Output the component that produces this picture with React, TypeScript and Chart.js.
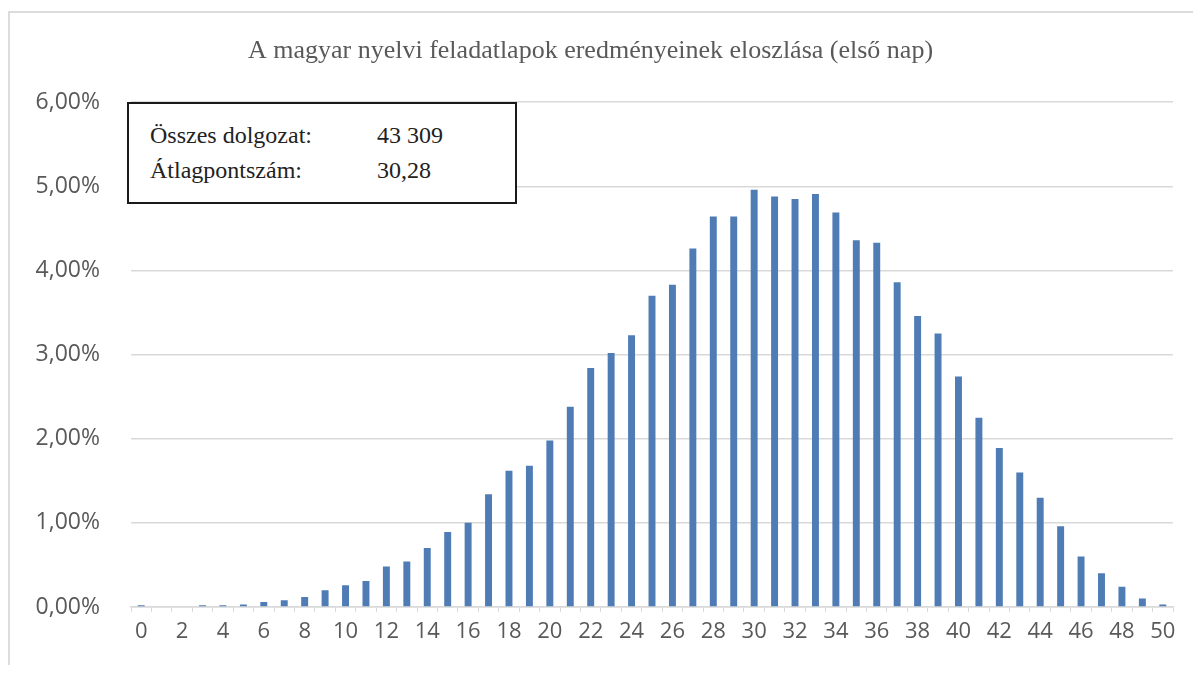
import React, { useEffect, useRef } from "react";
import { Chart, registerables } from "chart.js";

Chart.register(...registerables);

const categories: string[] = Array.from({ length: 51 }, (_, i) => String(i));
const shares: number[] = [
  0.02, 0.0, 0.0, 0.02, 0.02, 0.03, 0.06, 0.08, 0.12, 0.2,
  0.26, 0.31, 0.48, 0.54, 0.7, 0.89, 1.0, 1.34, 1.62, 1.68,
  1.98, 2.38, 2.84, 3.02, 3.23, 3.7, 3.83, 4.26, 4.64, 4.64,
  4.96, 4.88, 4.85, 4.91, 4.69, 4.36, 4.33, 3.86, 3.46, 3.25,
  2.74, 2.25, 1.89, 1.6, 1.3, 0.96, 0.6, 0.4, 0.24, 0.1,
  0.03,
];
const yTicks: number[] = [0, 1, 2, 3, 4, 5, 6];
const titleText = "A magyar nyelvi feladatlapok eredményeinek eloszlása (első nap)";
const infoLabels: string[] = ["Összes dolgozat:", "Átlagpontszám:"];
const infoValues: string[] = ["43 309", "30,28"];

export default function App() {
  const ref = useRef<HTMLCanvasElement | null>(null);

  useEffect(() => {
    if (!ref.current) return;
    const chart = new Chart(ref.current, {
      type: "bar",
      data: {
        labels: categories,
        datasets: [
          {
            data: shares,
            backgroundColor: "#4f7cb5",
            barPercentage: 0.34,
            categoryPercentage: 1,
          },
        ],
      },
      options: {
        animation: false,
        responsive: false,
        layout: { padding: { left: 0, right: 20, top: 0, bottom: 0 } },
        plugins: {
          legend: { display: false },
          tooltip: { enabled: false },
          title: {
            display: true,
            text: titleText,
            color: "#595959",
            font: { family: "'Liberation Serif', serif", size: 26, weight: "normal" },
            padding: { top: 28, bottom: 35 },
          },
        },
        scales: {
          x: {
            grid: {
              display: true,
              drawOnChartArea: false,
              offset: true,
              color: "#d9d9d9",
              tickColor: "#d9d9d9",
              tickLength: 5,
            },
            border: { display: true, color: "#d9d9d9", width: 1.5 },
            ticks: {
              autoSkip: false,
              maxRotation: 0,
              color: "#595959",
              padding: 7,
              font: { family: "'Open Sans', sans-serif", size: 22 },
              callback: (_v: any, i: number) => (i % 2 === 0 ? categories[i] : ""),
            },
            afterFit: (s: any) => {
              s.height = 58;
            },
          },
          y: {
            min: 0,
            max: 6,
            afterBuildTicks: (s: any) => {
              s.ticks = yTicks.map((v) => ({ value: v }));
            },
            grid: { color: "#d9d9d9", lineWidth: 1.5, drawTicks: false },
            border: { display: false },
            ticks: {
              color: "#595959",
              padding: 31,
              font: { family: "'Open Sans', sans-serif", size: 23 },
              callback: (v: any) => Number(v).toFixed(2).replace(".", ",") + "%",
            },
            afterFit: (s: any) => {
              s.width = 123;
            },
          },
        },
      },
    });
    return () => chart.destroy();
  }, []);

  const serif = "'Liberation Serif', 'Times New Roman', serif";

  return (
    <div style={{ position: "relative", width: 1185, height: 657, background: "#fff" }}>
      <div
        style={{
          position: "absolute",
          left: 0,
          top: 3,
          right: -16,
          bottom: -16,
          borderTop: "2px solid #dcdcdc",
          borderLeft: "2px solid #dcdcdc",
        }}
      />
      <canvas ref={ref} width={1185} height={657} style={{ position: "absolute", left: 0, top: 0 }} />
      <div
        style={{
          position: "absolute",
          left: 119,
          top: 94,
          width: 386,
          height: 98,
          border: "2px solid #1a1a1a",
          background: "#fff",
          fontFamily: serif,
          fontSize: 24,
          color: "#222",
        }}
      >
        {infoLabels.map((l, i) => (
          <React.Fragment key={l}>
            <span style={{ position: "absolute", left: 21, top: 17 + i * 35, lineHeight: "28px" }}>{l}</span>
            <span style={{ position: "absolute", left: 248, top: 17 + i * 35, lineHeight: "28px" }}>
              {infoValues[i]}
            </span>
          </React.Fragment>
        ))}
      </div>
    </div>
  );
}
